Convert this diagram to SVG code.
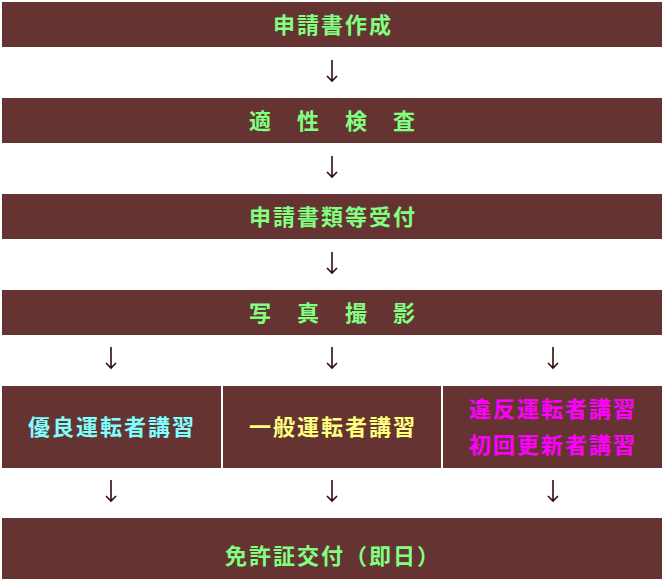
<svg xmlns="http://www.w3.org/2000/svg" width="664" height="582" viewBox="0 0 664 582">
<style>
.bar{fill:#663333}
.t{font-family:"Noto Sans CJK JP","Noto Sans CJK SC",sans-serif;font-size:22px;font-weight:bold;letter-spacing:2px;text-anchor:middle;dominant-baseline:central}
.g{fill:#80ff80}
.c{fill:#80ffff}
.y{fill:#ffff80}
.m{fill:#ff00ff}
.arr{fill:none;stroke:#330c0c;stroke-width:1.6}
</style>
<defs>
<path id="a" class="arr" d="M0,0 V21 M-5,16 L0,21 L5,16"/>
</defs>
<rect width="664" height="582" fill="#ffffff"/>
<g id="n1"><rect class="bar" x="2" y="2" width="660" height="45"/><text class="t g" x="333" y="23">申請書作成</text></g>
<g id="n2"><rect class="bar" x="2" y="98" width="660" height="45"/><text class="t g" x="333" y="119">適　性　検　査</text></g>
<g id="n3"><rect class="bar" x="2" y="194" width="660" height="45"/><text class="t g" x="333" y="215">申請書類等受付</text></g>
<g id="n4"><rect class="bar" x="2" y="290" width="660" height="45"/><text class="t g" x="333" y="311">写　真　撮　影</text></g>
<g id="n5"><rect class="bar" x="2" y="386" width="219" height="82"/><text class="t c" x="112" y="425">優良運転者講習</text></g>
<g id="n6"><rect class="bar" x="223" y="386" width="218" height="82"/><text class="t y" x="333" y="425">一般運転者講習</text></g>
<g id="n7"><rect class="bar" x="443" y="386" width="219" height="82"/><text class="t m" x="553" y="407">違反運転者講習</text><text class="t m" x="553" y="443">初回更新者講習</text></g>
<g id="n8"><rect class="bar" x="2" y="518" width="660" height="61"/><text class="t g" x="333" y="554">免許証交付（即日）</text></g>
<g id="connectors">
<use href="#a" x="332" y="60"/>
<use href="#a" x="332" y="156"/>
<use href="#a" x="332" y="252"/>
<use href="#a" x="111" y="347"/>
<use href="#a" x="332" y="347"/>
<use href="#a" x="553" y="347"/>
<use href="#a" x="111" y="480"/>
<use href="#a" x="332" y="480"/>
<use href="#a" x="553" y="480"/>
</g>
</svg>
